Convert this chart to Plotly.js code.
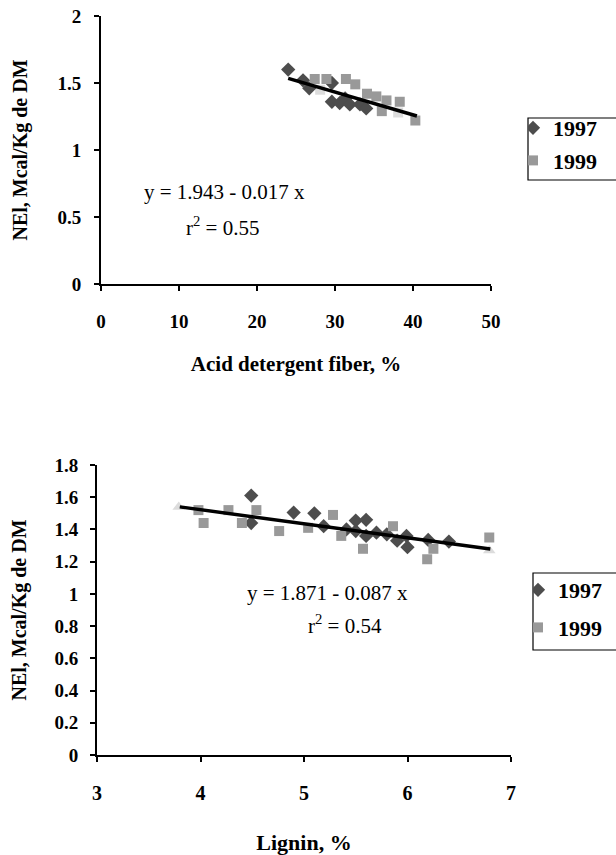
<!DOCTYPE html>
<html>
<head>
<meta charset="utf-8">
<script src="https://cdn.plot.ly/plotly-3.0.1.min.js"></script>
<style>html,body{margin:0;padding:0;background:#fff}#chart{width:616px;height:855px}</style>
</head>
<body>
<div id="chart"></div>
<script>
// ---- Top panel: Acid detergent fiber ----
var adf1997_x = [24.0, 25.9, 26.7, 29.6, 29.6, 30.6, 31.3, 31.9, 33.2, 34.0];
var adf1997_y = [1.60, 1.52, 1.46, 1.50, 1.36, 1.35, 1.385, 1.34, 1.34, 1.31];
var adf1999_x = [27.4, 28.9, 31.4, 32.6, 34.1, 35.3, 36.6, 36.0, 38.3, 40.3];
var adf1999_y = [1.53, 1.53, 1.53, 1.49, 1.42, 1.40, 1.37, 1.29, 1.36, 1.22];
var adfPred_x = [28.1, 38.1];
var adfPred_y = [1.45, 1.28];
var adfLine_x = [24.0, 40.5];
var adfLine_y = [1.535, 1.254];
var adfTicks = [0, 10, 20, 30, 40, 50];
var adfYTicks = [0, 0.5, 1, 1.5, 2];

// ---- Bottom panel: Lignin ----
var lig1997_x = [4.49, 4.49, 4.90, 5.10, 5.19, 5.41, 5.50, 5.60, 5.50, 5.60, 5.70, 5.80, 5.90, 5.99, 6.00, 6.20, 6.40];
var lig1997_y = [1.61, 1.44, 1.505, 1.50, 1.42, 1.40, 1.455, 1.46, 1.39, 1.36, 1.38, 1.37, 1.33, 1.36, 1.29, 1.335, 1.325];
var lig1999_x = [3.98, 4.03, 4.27, 4.40, 4.54, 4.76, 5.04, 5.28, 5.36, 5.57, 5.86, 6.19, 6.25, 6.79];
var lig1999_y = [1.52, 1.44, 1.52, 1.44, 1.52, 1.39, 1.41, 1.49, 1.36, 1.28, 1.42, 1.215, 1.28, 1.35];
var ligPred_x = [3.79, 6.79];
var ligPred_y = [1.54, 1.27];
var ligLine_x = [3.8, 6.8];
var ligLine_y = [1.54, 1.279];
var ligTicks = [3, 4, 5, 6, 7];
var ligYTicks = [0, 0.2, 0.4, 0.6, 0.8, 1, 1.2, 1.4, 1.6, 1.8];

var yearNames = ['1997', '1999'];
var yTitle = 'NEl, Mcal/Kg de DM';
var topXTitle = 'Acid detergent fiber, %';
var botXTitle = 'Lignin, %';
var topEq = 'y = 1.943 - 0.017 x';
var topR2 = 'r<sup>2</sup> = 0.55';
var botEq = 'y = 1.871 - 0.087 x';
var botR2 = 'r<sup>2</sup> = 0.54';

var serif = 'Liberation Serif, Times New Roman, serif';
var cDiamond = '#4d4d4d', cSquare = '#999999', cLight = '#dcdcdc';

var traces = [
  {x: adfPred_x, y: adfPred_y, xaxis:'x', yaxis:'y', mode:'markers', showlegend:false,
   marker:{symbol:'square', size:10, color:cLight}},
  {x: adf1997_x, y: adf1997_y, xaxis:'x', yaxis:'y', mode:'markers', name:yearNames[0], legend:'legend', legendgroup:'a1',
   marker:{symbol:'diamond', size:11, color:cDiamond}},
  {x: adf1999_x, y: adf1999_y, xaxis:'x', yaxis:'y', mode:'markers', name:yearNames[1], legend:'legend', legendgroup:'a2',
   marker:{symbol:'square', size:10, color:cSquare}},
  {x: adfLine_x, y: adfLine_y, xaxis:'x', yaxis:'y', mode:'lines', showlegend:false,
   line:{color:'#000', width:3.5}},

  {x: ligPred_x, y: ligPred_y, xaxis:'x2', yaxis:'y2', mode:'markers', showlegend:false,
   marker:{symbol:'triangle-up', size:11, color:cLight}},
  {x: lig1997_x, y: lig1997_y, xaxis:'x2', yaxis:'y2', mode:'markers', name:yearNames[0], legend:'legend2', legendgroup:'b1',
   marker:{symbol:'diamond', size:11, color:cDiamond}},
  {x: lig1999_x, y: lig1999_y, xaxis:'x2', yaxis:'y2', mode:'markers', name:yearNames[1], legend:'legend2', legendgroup:'b2',
   marker:{symbol:'square', size:10, color:cSquare}},
  {x: ligLine_x, y: ligLine_y, xaxis:'x2', yaxis:'y2', mode:'lines', showlegend:false,
   line:{color:'#000', width:3.5}}
];

var W = 616, H = 855;
function px(v){ return v / W; }
function py(v){ return (H - v) / H; }
function bold(arr){ return arr.map(function(v){ return '<b>' + v + '</b>'; }); }

var axisCommon = {
  showgrid:false, zeroline:false, showline:true, linecolor:'#000', linewidth:2,
  ticks:'outside', ticklen:5, tickwidth:2, tickcolor:'#000', tickmode:'array', automargin:false
};
function ax(o, fs){
  return Object.assign({}, axisCommon, {tickfont:{family:serif, size:fs, color:'#000', weight:'bold'}}, o);
}
function ttl(text, fs, standoff){
  return {text:text, standoff:standoff, font:{family:serif, size:fs, color:'#000', weight:'bold'}};
}

var legendCommon = {
  bgcolor:'rgba(255,255,255,0)', borderwidth:0,
  font:{family:serif, size:22, color:'#000', weight:'bold'},
  xanchor:'left', yanchor:'top', traceorder:'grouped', itemwidth:30, indentation:-15
};

function legendBox(x0, y0, y1){
  return {type:'rect', xref:'paper', yref:'paper', x0:px(x0), x1:px(W + 10), y0:py(y1), y1:py(y0),
          line:{color:'#000', width:1.2}, fillcolor:'rgba(0,0,0,0)', layer:'above'};
}

var layout = {
  width:W, height:H, margin:{l:0, r:0, t:0, b:0, autoexpand:false},
  paper_bgcolor:'#fff', plot_bgcolor:'#fff',
  showlegend:true,
  xaxis: ax({domain:[px(101), px(491)], range:[0,50], tickvals:adfTicks, ticktext:bold(adfTicks), anchor:'y',
    ticklabelstandoff:14, title:ttl(topXTitle, 21, 26)}, 19),
  yaxis: ax({domain:[py(284), py(16)], range:[0,2], tickvals:adfYTicks, ticktext:bold(adfYTicks), anchor:'x',
    ticklabelstandoff:9, title:ttl(yTitle, 20, 24)}, 19),
  xaxis2: ax({domain:[px(97), px(511)], range:[3,7], tickvals:ligTicks, ticktext:bold(ligTicks), anchor:'y2',
    ticklabelstandoff:14, title:ttl(botXTitle, 22, 37)}, 20),
  yaxis2: ax({domain:[py(755), py(465)], range:[0,1.8], tickvals:ligYTicks, ticktext:bold(ligYTicks), anchor:'x2',
    ticklabelstandoff:8, title:ttl(yTitle, 20, 22)}, 19),
  legend: Object.assign({}, legendCommon, {x:px(528), y:py(107), tracegroupgap:1}),
  legend2: Object.assign({}, legendCommon, {x:px(533), y:py(569), tracegroupgap:6}),
  shapes: [legendBox(528, 118, 180), legendBox(533, 573, 650)],
  annotations: [
    {xref:'paper', yref:'paper', x:px(224), y:py(178), text:topEq, showarrow:false,
     font:{family:serif, size:21, color:'#000'}},
    {xref:'paper', yref:'paper', x:px(222), y:py(211), text:topR2, showarrow:false,
     font:{family:serif, size:21, color:'#000'}},
    {xref:'paper', yref:'paper', x:px(327), y:py(607), text:botEq, showarrow:false,
     font:{family:serif, size:21, color:'#000'}},
    {xref:'paper', yref:'paper', x:px(345), y:py(640), text:botR2, showarrow:false,
     font:{family:serif, size:21, color:'#000'}}
  ]
};

Plotly.newPlot('chart', traces, layout, {displayModeBar:false, staticPlot:true});
</script>
</body>
</html>
